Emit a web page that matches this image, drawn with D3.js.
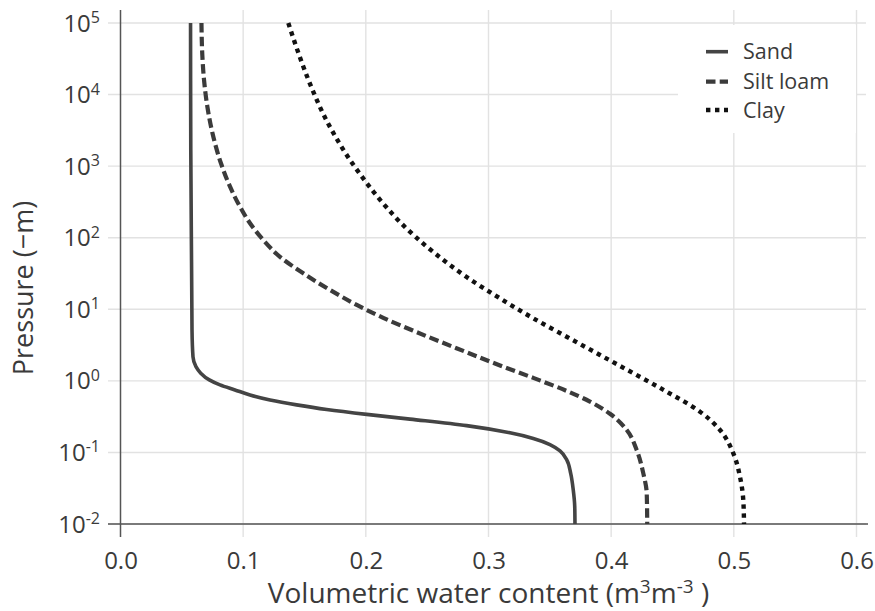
<!DOCTYPE html>
<html>
<head>
    <meta charset="utf-8">
    <title>Water retention</title>
    <script src="https://cdn.jsdelivr.net/npm/d3@7"></script>
    <style type="text/css">
        body{ margin:0; background:#fff; }
        svg text{ font-family:"Open Sans", "Noto Sans", sans-serif; fill:#3a3a3a; }
    </style>
</head>
<body>
<svg id="chart" width="875" height="611"></svg>

<script type="text/javascript">

// values: [water content, pressure head (m)]
var sand = [
    [0.0571, 1e5], [0.0573, 1683], [0.0579, 48.9], [0.0583, 5.14], [0.0591, 2.17],
    [0.0615, 1.58], [0.0654, 1.28], [0.0724, 1.03], [0.0811, 0.877], [0.0933, 0.747],
    [0.1056, 0.636], [0.1219, 0.541], [0.1436, 0.462], [0.1681, 0.398], [0.2007, 0.340],
    [0.236, 0.292], [0.2822, 0.237], [0.3175, 0.188], [0.3365, 0.157], [0.3501, 0.129],
    [0.3583, 0.105], [0.3637, 0.0794], [0.367, 0.0511], [0.3691, 0.0298],
    [0.3703, 0.0175], [0.3705, 0.01]
];
var siltLoam = [
    [0.0660, 1e5], [0.0667, 35700], [0.0681, 16000], [0.0708, 6780], [0.0750, 2880],
    [0.0819, 1096], [0.0893, 516], [0.0974, 271], [0.1056, 159], [0.1164, 92.9],
    [0.1300, 54.1], [0.1490, 31.8], [0.1708, 18.6], [0.1926, 11.5], [0.2142, 7.59],
    [0.2415, 4.79], [0.2822, 2.51], [0.3094, 1.64], [0.3365, 1.10], [0.3637, 0.724],
    [0.3827, 0.513], [0.3990, 0.347], [0.4127, 0.206], [0.4208, 0.108], [0.4262, 0.051],
    [0.4290, 0.0268], [0.4294, 0.01]
];
var clay = [
    [0.1368, 1e5], [0.1436, 44800], [0.1504, 21300], [0.1572, 10900], [0.1653, 5350],
    [0.1735, 2910], [0.1844, 1430], [0.1952, 777], [0.2061, 442], [0.2170, 264],
    [0.2278, 166], [0.2550, 63.1], [0.2822, 28.2], [0.3094, 14.2], [0.3365, 7.48],
    [0.3637, 4.14], [0.3909, 2.30], [0.4180, 1.28], [0.4453, 0.705], [0.4724, 0.371],
    [0.4887, 0.206], [0.4996, 0.097], [0.5050, 0.0458], [0.5077, 0.0216], [0.5083, 0.01]
];

var seriesNames = ['Sand', 'Silt loam', 'Clay'];
var xTicks = [0, 0.1, 0.2, 0.3, 0.4, 0.5, 0.6];
var yExponents = [5, 4, 3, 2, 1, 0, -1, -2];
var xTitle = 'Volumetric water content (m';
var yTitle = 'Pressure (\u2212m)';


var plotLeft = 120.5, plotRight = 856.5,
    plotTop = 23, plotBottom = 524;

var svg = d3.select('#chart');

var x = d3.scaleLinear().domain([0, 0.6]).range([plotLeft, plotRight]);
var y = d3.scaleLog().domain([0.01, 1e5]).range([plotBottom, plotTop]);

var styles = [
    {color:'#444', width:3.6, dash:null},
    {color:'#3b3b3b', width:4.2, dash:'9.5,4.2'},
    {color:'#111', width:4.4, dash:'4.4,4.6'}
];
var data = [sand, siltLoam, clay];

// grid
svg.append('g').selectAll('line')
    .data(yExponents)
    .enter().append('line')
    .attr('x1', 108).attr('x2', 866)
    .attr('y1', function(e){ return y(Math.pow(10, e)) })
    .attr('y2', function(e){ return y(Math.pow(10, e)) })
    .attr('stroke', '#e2e2e2')
    .attr('stroke-width', 1.4);

svg.append('g').selectAll('line')
    .data(xTicks.slice(1))
    .enter().append('line')
    .attr('x1', x).attr('x2', x)
    .attr('y1', 10).attr('y2', 537)
    .attr('stroke', '#e2e2e2')
    .attr('stroke-width', 1.4);

// legend background hides the grid
svg.append('rect')
    .attr('x', 678).attr('y', 25)
    .attr('width', 178).attr('height', 108)
    .attr('fill', '#fff');

// axes
svg.append('line')
    .attr('x1', 108).attr('x2', 868)
    .attr('y1', plotBottom).attr('y2', plotBottom)
    .attr('stroke', '#555').attr('stroke-width', 1.5);
svg.append('line')
    .attr('x1', plotLeft).attr('x2', plotLeft)
    .attr('y1', 10).attr('y2', 537)
    .attr('stroke', '#555').attr('stroke-width', 1.5);

var xAxis = svg.append('g')
    .attr('transform', 'translate(0,' + plotBottom + ')')
    .call(d3.axisBottom(x).tickValues(xTicks).tickFormat(d3.format('.1f')).tickSize(0).tickPadding(0));
xAxis.select('.domain').remove();
xAxis.selectAll('text')
    .attr('y', 44.5).attr('dy', null)
    .style('font-size', '24px')
    .attr('fill', '#3a3a3a');

// y labels: 10 with superscript exponent
var yLab = svg.append('g').selectAll('text')
    .data(yExponents)
    .enter().append('text')
    .attr('x', 100)
    .attr('y', function(e){ return y(Math.pow(10, e)) + 8.5 })
    .attr('text-anchor', 'end')
    .style('font-size', '24px');
yLab.append('tspan').text('10');
yLab.append('tspan')
    .attr('dy', -8.5)
    .style('font-size', '16px')
    .text(function(e){ return e < 0 ? '-' + (-e) : e });

// titles
var xt = svg.append('text')
    .attr('x', (plotLeft + plotRight) / 2)
    .attr('y', 603)
    .attr('text-anchor', 'middle')
    .style('font-size', '28px');
xt.append('tspan').text(xTitle);
xt.append('tspan').attr('dy', -10).style('font-size', '19px').text('3');
xt.append('tspan').attr('dy', 10).text('m');
xt.append('tspan').attr('dy', -10).style('font-size', '19px').text('-3');
xt.append('tspan').attr('dy', 10).text(' )');

svg.append('text')
    .attr('transform', 'translate(33,288) rotate(-90)')
    .attr('text-anchor', 'middle')
    .style('font-size', '27px')
    .text(yTitle);

// curves
var line = d3.line()
    .x(function(d){ return x(d[0]) })
    .y(function(d){ return y(d[1]) })
    .curve(d3.curveMonotoneY);

svg.append('g').selectAll('path')
    .data(data)
    .enter().append('path')
    .attr('d', line)
    .attr('fill', 'none')
    .attr('stroke', function(d, i){ return styles[i].color })
    .attr('stroke-width', function(d, i){ return styles[i].width })
    .attr('stroke-dasharray', function(d, i){ return styles[i].dash });

// legend
var legend = svg.append('g').selectAll('g')
    .data(seriesNames)
    .enter().append('g')
    .attr('transform', function(d, i){ return 'translate(706,' + [51.7, 81.7, 110][i] + ')' });

legend.append('line')
    .attr('x1', 0).attr('x2', 22)
    .attr('stroke', function(d, i){ return styles[i].color })
    .attr('stroke-width', function(d, i){ return styles[i].width })
    .attr('stroke-dasharray', function(d, i){ return styles[i].dash });

legend.append('text')
    .attr('x', 37).attr('y', 7.5)
    .style('font-size', '21.5px')
    .text(function(d){ return d });

</script>
</body>
</html>
